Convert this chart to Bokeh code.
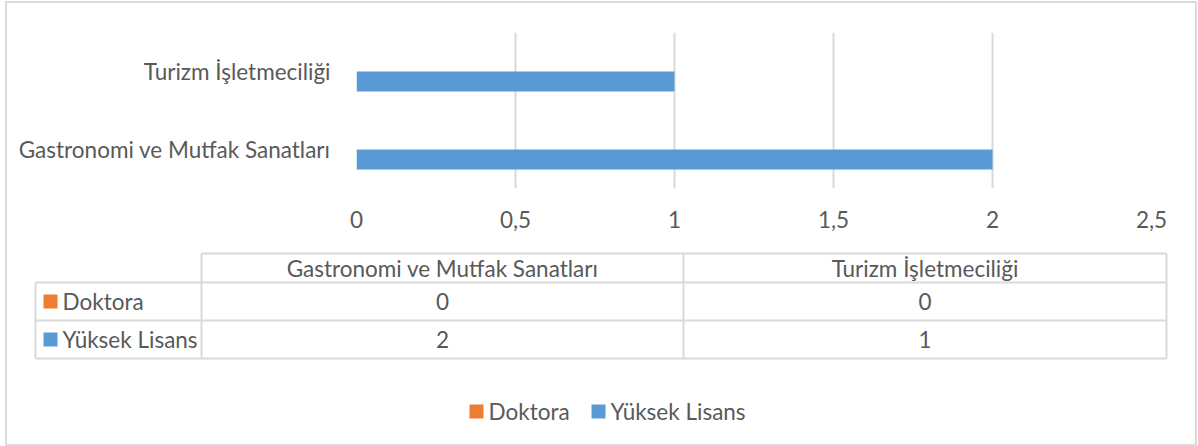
from bokeh.plotting import figure
from bokeh.models import FactorRange, Range1d, FixedTicker, ColumnDataSource
from bokeh.transform import dodge
from bokeh.layouts import column
from bokeh.embed import file_html
from bokeh.resources import INLINE
from bokeh.core.properties import value

# ---- data ----
categories = ["Gastronomi ve Mutfak Sanatları", "Turizm İşletmeciliği"]
series_names = ["Doktora", "Yüksek Lisans"]
doktora = [0, 0]
yuksek_lisans = [2, 1]
x_ticks = [0, 0.5, 1, 1.5, 2, 2.5]
x_tick_labels = ["0", "0,5", "1", "1,5", "2", "2,5"]
series_colors = ["#ED7D31", "#5B9BD5"]

# ---- style ----
FONT = "Lato"
FS = "22.5px"
TXT = "#595959"
GRID = "#D9D9D9"
OX, OY = 7, 3            # page offset of the figures' content
W = 1188
HA = 240 - OY
HB = 204

src = ColumnDataSource(dict(cat=categories, doktora=doktora, yuksek=yuksek_lisans))

pA = figure(width=W, height=HA, y_range=FactorRange(*categories), x_range=Range1d(0, 2.5),
            output_backend="svg", toolbar_location=None, frame_align=False,
            min_border_left=356 - OX, min_border_right=W - (1151 - OX),
            min_border_top=32 - OY, min_border_bottom=HA - (188 - OY))
BAR_H = 0.256
pA.hbar(y=dodge("cat", BAR_H / 2, range=pA.y_range), left=0, right="doktora", height=BAR_H,
        source=src, fill_color=series_colors[0], line_color=None)
pA.hbar(y=dodge("cat", -BAR_H / 2, range=pA.y_range), left=0, right="yuksek", height=BAR_H,
        source=src, fill_color=series_colors[1], line_color=None)

pA.xaxis.ticker = FixedTicker(ticks=x_ticks)
pA.xaxis.major_label_overrides = {t: l for t, l in zip(x_ticks, x_tick_labels)}
pA.xgrid.ticker = FixedTicker(ticks=x_ticks)
pA.xgrid.grid_line_color = GRID
pA.xgrid.grid_line_width = 2
pA.ygrid.grid_line_color = None
for ax in (pA.xaxis, pA.yaxis):
    ax.axis_line_color = None
    ax.major_tick_line_color = None
    ax.minor_tick_line_color = None
    ax.major_label_text_font = FONT
    ax.major_label_text_font_size = FS
    ax.major_label_text_color = TXT
pA.xaxis.major_label_standoff = 16
pA.yaxis.major_label_standoff = 20
pA.outline_line_color = None
pA.background_fill_color = "white"
pA.border_fill_color = "white"

# ---- table + legend ----
pB = figure(width=W, height=HB, x_range=Range1d(0, W), y_range=Range1d(HB, 0),
            output_backend="svg", toolbar_location=None, frame_align=False,
            x_axis_location=None, y_axis_location=None, min_border=0)
pB.grid.visible = False
pB.outline_line_color = None

def px(x):
    return x - OX

def py(y):
    return y - 240

t_left, t_hdr, t_mid, t_right = px(35), px(201), px(683), px(1166)
t_top, t_h, t_r1, t_bot = py(253), py(282), py(320), py(358)
seg = dict(
    x0=[t_hdr, t_left, t_left, t_left, t_left, t_hdr, t_mid, t_right],
    y0=[t_top, t_h, t_r1, t_bot, t_h, t_top, t_top, t_top],
    x1=[t_right, t_right, t_right, t_right, t_left, t_hdr, t_mid, t_right],
    y1=[t_top, t_h, t_r1, t_bot, t_bot, t_bot, t_bot, t_bot],
)
pB.segment(x0="x0", y0="y0", x1="x1", y1="y1", source=ColumnDataSource(seg),
           line_color=GRID, line_width=2)

col_x = [(t_hdr + t_mid) / 2, (t_mid + t_right) / 2]
row_y = [(t_h + t_r1) / 2, (t_r1 + t_bot) / 2]
hdr_y = (t_top + t_h) / 2

txt = dict(text_font=value(FONT), text_font_size=FS, text_color=TXT, text_baseline="middle")
pB.text(x=col_x, y=[hdr_y] * 2, text=categories, text_align="center", **txt)
vals = [doktora, yuksek_lisans]
cx, cy, ct = [], [], []
for r, series in enumerate(vals):
    for c, v in enumerate(series):
        cx.append(col_x[c]); cy.append(row_y[r]); ct.append(str(v))
pB.text(x=cx, y=cy, text=ct, text_align="center", **txt)

pB.rect(x=[px(50)] * 2, y=row_y, width=14, height=14, fill_color=series_colors, line_color=None)
pB.text(x=[px(62)] * 2, y=row_y, text=series_names, text_align="left", **txt)

leg_y = py(411)
pB.rect(x=[px(476), px(598)], y=[leg_y] * 2, width=14, height=14, fill_color=series_colors, line_color=None)
pB.text(x=[px(488), px(610)], y=[leg_y] * 2, text=series_names, text_align="left", **txt)

layout = column(pA, pB, spacing=0,
                styles={"border": "2px solid #D9D9D9", "margin": "1px 0px 0px 5px"})
open("out.html", "w").write(file_html(layout, INLINE))
